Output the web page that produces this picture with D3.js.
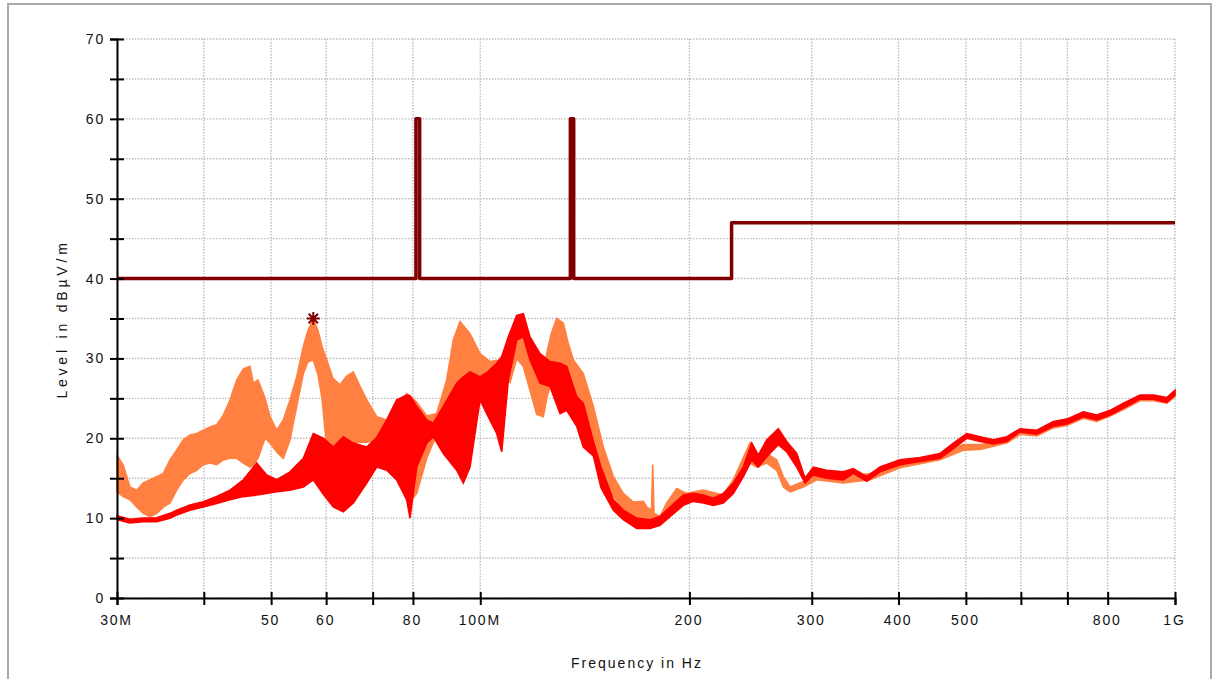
<!DOCTYPE html>
<html>
<head>
<meta charset="utf-8">
<script src="https://cdn.jsdelivr.net/npm/d3@7/dist/d3.min.js"></script>
<style>
  html, body { margin: 0; padding: 0; background: #fff; }
  svg { display: block; }
  text { font-family: "Liberation Sans", Arial, sans-serif; fill: #111; }
</style>
</head>
<body>
<svg id="chart" width="1214" height="679"></svg>
<script>
// Frequency axis ticks (MHz) and their labels
const xTickValues = [30, 40, 50, 60, 70, 80, 100, 200, 300, 400, 500, 600, 700, 800, 1000];
const xTickLabels = ["30M", "", "50", "60", "", "80", "100M", "200", "300", "400", "500", "", "", "800", "1G"];
// Level axis ticks (dBµV/m)
const yTickValues = [0, 5, 10, 15, 20, 25, 30, 35, 40, 45, 50, 55, 60, 65, 70];
const yTickLabels = ["0", "", "10", "", "20", "", "30", "", "40", "", "50", "", "60", "", "70"];

// Limit line
const limitFreq  = [30, 80.8, 80.8, 81.8, 81.8, 134.8, 134.8, 136.3, 136.3, 230, 230, 1000];
const limitLevel = [40, 40,   60,   60,   40,   40,    60,    60,    40,    40,  47,  47];

// Peak marker
const markerFreq = [57.5];
const markerLevel = [35.0];

// Trace 1 (orange): frequency (MHz), upper and lower envelope (dBµV/m)
const orangeFreq = [30.00, 30.63, 31.32, 32.02, 32.73, 33.47, 34.22, 34.98, 35.76, 36.56,
  37.37, 38.21, 39.07, 39.93, 40.83, 41.75, 42.67, 43.63, 44.61, 45.60,
  46.62, 47.13, 47.87, 49.00, 49.82, 50.93, 52.06, 53.23, 54.42, 55.63,
  56.50, 57.50, 58.40, 59.18, 60.11, 61.38, 62.82, 64.23, 65.65, 67.13,
  68.64, 70.95, 73.34, 75.81, 78.37, 79.23, 81.01, 83.74, 86.56, 89.48,
  91.45, 93.51, 96.66, 99.92, 103.28, 106.77, 110.36, 112.84, 115.34, 117.93,
  120.58, 123.24, 124.64, 126.43, 128.84, 131.69, 133.76, 136.13, 140.71, 145.46,
  150.36, 155.42, 160.66, 166.08, 171.67, 173.62, 176.40, 177.11, 177.87, 181.44,
  185.52, 191.77, 198.23, 209.45, 223.80, 231.34, 244.51, 250.00, 258.42, 267.13,
  273.04, 279.17, 291.75, 305.01, 333.08, 363.96, 401.98, 429.58, 459.08, 479.76,
  495.93, 524.17, 547.80, 572.67, 598.48, 632.52, 668.25, 698.58, 738.11, 771.65,
  806.43, 842.78, 890.73, 930.86, 973.13, 1000];
const orangeHi = [17.9, 16.6, 13.9, 13.5, 14.4, 14.8, 15.2, 15.6, 17.3, 18.5,
  19.8, 20.4, 20.6, 21.0, 21.4, 21.7, 22.9, 24.8, 27.3, 28.7,
  29.0, 26.9, 27.3, 25.0, 22.7, 21.0, 22.3, 24.8, 27.7, 31.5,
  33.5, 34.9, 33.5, 31.5, 29.8, 27.5, 26.7, 27.8, 28.3, 26.5,
  24.8, 22.7, 22.3, 24.0, 25.6, 25.3, 24.5, 22.8, 23.1, 27.3,
  32.3, 34.6, 33.1, 30.6, 29.6, 29.8, 31.0, 34.0, 34.5, 31.0,
  28.0, 28.5, 30.6, 33.0, 35.0, 34.4, 32.0, 29.8, 28.1, 24.0,
  18.9, 15.2, 13.1, 12.0, 12.1, 11.4, 11.0, 16.7, 10.6, 10.2,
  11.9, 13.7, 13.1, 13.5, 12.9, 14.8, 19.4, 18.0, 18.1, 17.3,
  15.2, 13.9, 14.6, 15.6, 15.2, 15.6, 17.0, 17.4, 18.0, 18.8,
  19.2, 19.2, 19.5, 20.0, 21.0, 20.8, 21.9, 22.2, 23.1, 22.7,
  23.3, 24.2, 25.2, 25.2, 24.9, 25.8];
const orangeLo = [13.3, 12.7, 12.3, 11.4, 10.6, 10.2, 10.6, 11.4, 11.9, 13.5,
  14.8, 15.6, 16.0, 16.7, 16.9, 16.7, 17.3, 17.5, 17.5, 16.9,
  16.4, 16.6, 17.5, 20.0, 19.4, 18.3, 17.5, 19.8, 24.0, 28.1,
  29.6, 29.8, 28.0, 25.0, 18.9, 18.9, 18.9, 19.2, 19.4, 19.5,
  19.5, 19.8, 20.5, 18.5, 15.0, 12.0, 13.1, 17.5, 20.5, 22.5,
  25.0, 26.5, 27.5, 28.0, 27.5, 27.5, 27.0, 30.0, 29.0, 26.0,
  23.0, 22.7, 25.0, 27.0, 28.0, 27.0, 26.0, 25.0, 22.5, 18.5,
  15.0, 12.8, 11.0, 10.1, 9.6, 9.35, 9.2, 9.2, 9.1, 9.1,
  10.6, 11.9, 12.3, 12.3, 12.0, 13.5, 16.9, 16.4, 16.9, 16.0,
  13.9, 13.3, 13.9, 14.8, 14.4, 14.8, 16.3, 16.8, 17.3, 18.0,
  18.5, 18.6, 19.0, 19.4, 20.5, 20.3, 21.3, 21.6, 22.5, 22.1,
  22.8, 23.6, 24.7, 24.7, 24.4, 25.2];

// Trace 2 (red): frequency (MHz), upper and lower envelope (dBµV/m)
const redFreq = [30.00, 31.32, 32.73, 34.22, 35.76, 36.56, 38.21, 39.93, 41.75, 43.63,
  45.60, 47.67, 49.27, 50.93, 53.23, 55.63, 57.50, 59.44, 61.44, 63.51,
  65.65, 68.64, 70.95, 73.34, 75.81, 78.37, 79.23, 81.01, 83.74, 85.59,
  88.47, 92.49, 94.54, 96.66, 99.92, 102.16, 105.60, 107.37, 109.74, 112.84,
  115.34, 117.93, 121.90, 126.01, 130.26, 133.18, 137.67, 140.71, 145.46, 149.21,
  155.42, 160.66, 167.96, 175.53, 181.44, 187.56, 196.01, 202.62, 209.45, 216.50,
  223.80, 231.34, 239.14, 245.89, 251.33, 258.42, 268.55, 276.14, 285.44, 293.40,
  301.60, 315.29, 333.08, 344.32, 360.00, 376.23, 401.98, 429.58, 459.08, 479.76,
  501.56, 524.17, 547.80, 572.67, 598.48, 632.52, 668.25, 698.58, 738.11, 771.65,
  806.43, 842.78, 890.73, 930.86, 973.13, 1000];
const redHi = [10.3, 9.85, 10.0, 10.05, 10.6, 11.0, 11.65, 12.05, 12.7, 13.5,
  14.8, 16.9, 15.4, 14.8, 15.8, 17.5, 20.6, 20.0, 18.9, 20.2,
  19.4, 18.9, 20.1, 22.3, 24.8, 25.4, 25.3, 24.0, 22.3, 21.9,
  24.0, 26.9, 27.7, 28.3, 27.7, 28.2, 29.4, 30.2, 32.7, 35.4,
  35.6, 32.7, 30.6, 29.6, 29.4, 29.0, 25.2, 24.4, 19.6, 16.4,
  12.3, 11.0, 10.0, 9.8, 10.2, 11.4, 12.9, 13.1, 12.9, 12.5,
  13.1, 14.4, 16.4, 19.4, 17.9, 19.8, 21.2, 19.6, 18.1, 15.0,
  16.4, 16.0, 15.8, 16.2, 15.2, 16.4, 17.3, 17.6, 18.1, 19.4,
  20.6, 20.2, 19.8, 20.2, 21.2, 21.0, 22.1, 22.4, 23.3, 22.9,
  23.5, 24.4, 25.4, 25.4, 25.1, 26.0];
const redLo = [9.8, 9.4, 9.55, 9.55, 10.0, 10.4, 11.0, 11.4, 11.85, 12.3,
  12.7, 12.9, 13.1, 13.3, 13.5, 13.9, 14.8, 13.0, 11.4, 10.8,
  11.9, 14.4, 16.4, 16.0, 14.8, 12.3, 10.0, 16.4, 19.4, 20.2,
  18.1, 16.0, 14.4, 16.4, 24.8, 23.1, 20.6, 18.3, 27.3, 32.3,
  32.7, 29.8, 26.9, 26.5, 23.1, 23.5, 21.5, 18.9, 17.8, 13.8,
  11.0, 9.8, 8.7, 8.7, 9.1, 10.2, 11.6, 12.1, 11.9, 11.6,
  11.9, 13.1, 15.2, 17.3, 16.4, 17.7, 19.2, 18.3, 16.4, 14.4,
  15.4, 15.0, 14.8, 15.6, 14.6, 15.8, 16.7, 17.1, 17.5, 18.7,
  20.0, 19.6, 19.3, 19.6, 20.8, 20.5, 21.5, 21.8, 22.7, 22.3,
  22.9, 23.8, 24.9, 24.9, 24.5, 25.4];

const svg = d3.select("#chart");
const W = 1214, H = 679;

const x = d3.scaleLog().domain([30, 1000]).range([117, 1175]);
const y = d3.scaleLinear().domain([0, 70]).range([598, 39]);

// Outer frame
svg.append("rect").attr("x", 8).attr("y", 4).attr("width", 1203).attr("height", H + 10)
  .attr("fill", "#fff").attr("stroke", "#aaaaaa").attr("stroke-width", 2);

// Dotted grid
const grid = svg.append("g").attr("stroke", "#bdbdbd").attr("stroke-width", 1.4)
  .attr("stroke-dasharray", "1.5,1.5");
grid.selectAll("line.h").data(yTickValues).join("line").attr("class", "h")
  .attr("x1", x(30)).attr("x2", x(1000)).attr("y1", d => y(d)).attr("y2", d => y(d));
grid.selectAll("line.v").data(xTickValues).join("line").attr("class", "v")
  .attr("x1", d => x(d)).attr("x2", d => x(d)).attr("y1", y(70)).attr("y2", y(0));

// Measurement traces as min/max envelopes
function band(freq, hi, lo) {
  return freq.map((f, i) => ({ f, hi: hi[i], lo: lo[i] }));
}
const area = d3.area().x(d => x(d.f)).y0(d => y(d.lo)).y1(d => y(d.hi)).curve(d3.curveLinear);

svg.append("path").datum(band(orangeFreq, orangeHi, orangeLo))
  .attr("d", area).attr("fill", "#ff8040").attr("stroke", "#ff8040").attr("stroke-width", 1.6);
svg.append("path").datum(band(redFreq, redHi, redLo))
  .attr("d", area).attr("fill", "#ff0000").attr("stroke", "#ff0000").attr("stroke-width", 1.6);

// Limit line
const limitData = limitFreq.map((f, i) => ({ f, v: limitLevel[i] }));
svg.append("path").datum(limitData)
  .attr("d", d3.line().x(d => x(d.f)).y(d => y(d.v)))
  .attr("fill", "none").attr("stroke", "#800000").attr("stroke-width", 3.5)
  .attr("stroke-linejoin", "round");

// Peak marker (asterisk)
const markers = svg.append("g").attr("stroke", "#800000").attr("stroke-width", 2);
markerFreq.forEach((f, i) => {
  const cx = x(f), cy = y(markerLevel[i]), r = 6.5, rd = r * 0.72;
  const p = `M${cx},${cy - r}V${cy + r}M${cx - r},${cy}H${cx + r}` +
    `M${cx - rd},${cy - rd}L${cx + rd},${cy + rd}M${cx - rd},${cy + rd}L${cx + rd},${cy - rd}`;
  markers.append("path").attr("d", p);
});

// Axes
const xAxis = d3.axisBottom(x).tickValues(xTickValues)
  .tickFormat((d, i) => xTickLabels[i]).tickSizeOuter(0).tickSize(7);
const gx = svg.append("g").attr("transform", `translate(0,${y(0)})`).call(xAxis);
gx.select(".domain").attr("stroke", "#000").attr("stroke-width", 2);
gx.selectAll(".tick line").attr("stroke", "#000").attr("stroke-width", 2).attr("y1", -6).attr("y2", 7);
gx.selectAll(".tick text").attr("y", 27).attr("dy", 0).attr("x", -1)
  .style("font-size", "14px").style("letter-spacing", "1.8px").attr("fill", "#111");

const yAxis = d3.axisLeft(y).tickValues(yTickValues)
  .tickFormat((d, i) => yTickLabels[i]).tickSizeOuter(0).tickSize(7);
const gy = svg.append("g").attr("transform", `translate(${x(30)},0)`).call(yAxis);
gy.select(".domain").attr("stroke", "#000").attr("stroke-width", 2);
gy.selectAll(".tick line").attr("stroke", "#000").attr("stroke-width", 2).attr("x1", 7).attr("x2", -7);
gy.selectAll(".tick text").attr("x", -12).attr("dy", "0.32em")
  .style("font-size", "14px").style("letter-spacing", "1.8px").attr("fill", "#111");

// Axis titles
svg.append("text").attr("x", 637).attr("y", 668).attr("text-anchor", "middle")
  .style("font-size", "14px").style("letter-spacing", "2px").text("Frequency in Hz");
svg.append("text").attr("transform", "translate(67,319) rotate(-90)").attr("text-anchor", "middle")
  .style("font-size", "14px").style("letter-spacing", "3.8px").text("Level in dBµV/m");
</script>
</body>
</html>
